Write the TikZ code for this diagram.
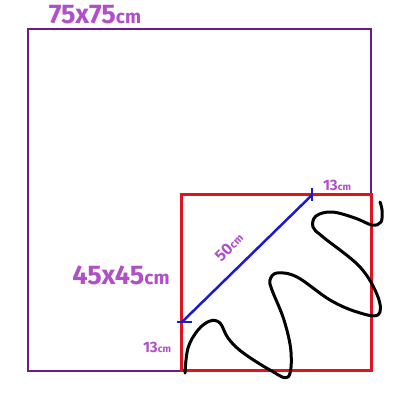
\documentclass[tikz,border=0pt]{standalone}
\usepackage{fontspec}
\setmainfont{Fira Sans}
\definecolor{lbl}{HTML}{B050C8}
\definecolor{frame}{HTML}{6A1B8A}
\definecolor{redsq}{HTML}{E0141E}
\definecolor{bluel}{HTML}{1A1AD0}
\begin{document}
\begin{tikzpicture}[x=1pt,y=-1pt,
  lbltext/.style={text=lbl,inner sep=0pt},
  bigl/.style={lbltext,font=\fontsize{27}{27}\selectfont\bfseries},
  smalll/.style={lbltext,font=\fontsize{15}{15}\selectfont\bfseries}]
\useasboundingbox (0,0) rectangle (400,400);
% outer square
\draw[frame,line width=1.2pt] (28,29) rectangle (371,371);
% red square
\draw[redsq,line width=3pt] (181,194) rectangle (371,370);
% blue diagonal
\coordinate (b1) at (182,322);
\coordinate (b2) at (312,195);
\draw[bluel,line width=2.5pt] (b1) -- (b2);
\draw[bluel,line width=2.5pt] (177,322) -- (192,322);
\draw[bluel,line width=2.5pt] (312,188) -- (312,201);
% squiggle
\draw[black,line width=3pt,line cap=round,line join=round] plot[smooth,tension=0.6] coordinates {
(185,373) (188,348) (198,330) (210,321) (220,323) (228,338) (242,352) (270,370) (288,377)
(291,352) (284,320) (272,290) (270,280) (277,273) (297,277) (330,300) (357,312) (378,315)
(378,297) (360,267) (323,237) (313,227) (316,216) (332,212) (355,218) (372,225) (381,222) (382,210) (380,202)};
% labels
\node[bigl] (t1) at (95,15) {75x75{\fontsize{19}{19}\selectfont cm}};
\node[bigl] (t2) at (121,275) {45x45{\fontsize{19}{19}\selectfont cm}};
\node[smalll] (t3) at (337,185) {13{\fontsize{10}{10}\selectfont cm}};
\node[smalll] (t4) at (157,347) {13{\fontsize{10}{10}\selectfont cm}};
\node[lbltext,font=\fontsize{16}{16}\selectfont\bfseries,rotate=45] (t5) at (229,247) {50{\fontsize{11}{11}\selectfont cm}};
\end{tikzpicture}
\end{document}
